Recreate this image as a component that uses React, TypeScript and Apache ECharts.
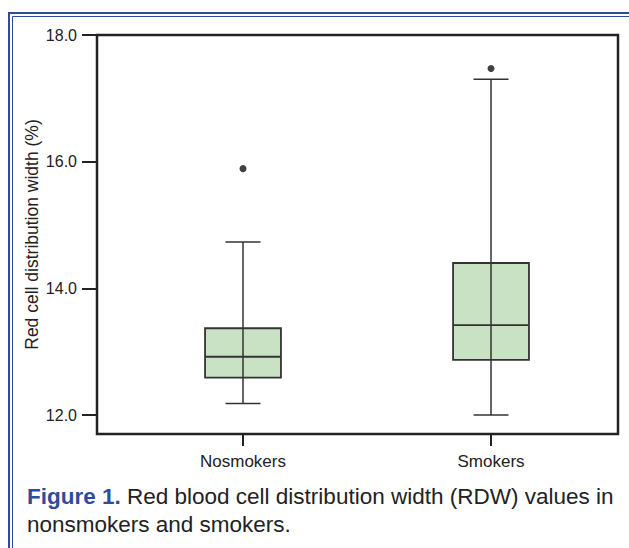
import React, { useEffect, useRef } from 'react';
import * as echarts from 'echarts';

const categories = ['Nosmokers', 'Smokers'];
// [min, Q1, median, Q3, max]
const boxValues = [
  [12.18, 12.59, 12.92, 13.37, 14.73],
  [12.0, 12.87, 13.42, 14.4, 17.3],
];
const outlierValues = [15.89, 17.47];
const yTicks = [12, 14, 16, 18];
const yAxisName = 'Red cell distribution width (%)';
const captionBold = 'Figure 1.';
const captionLine1 = ' Red blood cell distribution width (RDW) values in';
const captionLine2 = 'nonsmokers and smokers.';

const FONT = '"Liberation Sans", Arial, Helvetica, sans-serif';
const BLUE = '#2d4c9c';

export default function App() {
  const ref = useRef<HTMLDivElement>(null);

  useEffect(() => {
    if (!ref.current) return;
    const chart = echarts.init(ref.current, undefined, { renderer: 'svg' });

    const boxData = boxValues.map((v, i) => [i, ...v]);
    const outlierData = outlierValues.map((v, i) => [i, v]);

    const option: any = {
      animation: false,
      backgroundColor: '#ffffff',
      grid: {
        left: 97,
        right: 11,
        top: 35,
        bottom: 114,
        show: true,
        borderColor: '#222',
        borderWidth: 2.5,
        backgroundColor: 'transparent',
      },
      xAxis: {
        type: 'value',
        min: -0.5887,
        max: 1.512,
        splitLine: { show: false },
        axisLine: { show: false, onZero: false },
        axisTick: {
          show: true,
          length: 12,
          customValues: [0, 1],
          lineStyle: { color: '#222', width: 2 },
        },
        axisLabel: {
          customValues: [0, 1],
          formatter: (v: number) => categories[Math.round(v)] ?? '',
          fontSize: 17,
          color: '#222',
          fontFamily: FONT,
          margin: 19,
        },
      },
      yAxis: {
        type: 'value',
        min: 11.7,
        max: 18,
        splitLine: { show: false },
        axisLine: { show: false, onZero: false },
        axisTick: {
          show: true,
          length: 15,
          customValues: yTicks,
          lineStyle: { color: '#222', width: 2 },
        },
        axisLabel: {
          customValues: yTicks,
          formatter: (v: number) => v.toFixed(1),
          fontSize: 16,
          color: '#222',
          fontFamily: FONT,
          margin: 20,
        },
        name: yAxisName,
        nameLocation: 'middle',
        nameGap: 56,
        nameMoveOverlap: false,
        nameTextStyle: { fontSize: 17.5, color: '#222', fontFamily: FONT },
      },
      series: [
        {
          type: 'custom',
          data: boxData,
          encode: { x: 0, y: [1, 2, 3, 4, 5] },
          renderItem: (params: any, api: any) => {
            const x = api.value(0);
            const pMin = api.coord([x, api.value(1)]);
            const pQ1 = api.coord([x, api.value(2)]);
            const pMed = api.coord([x, api.value(3)]);
            const pQ3 = api.coord([x, api.value(4)]);
            const pMax = api.coord([x, api.value(5)]);
            const cx = pMin[0];
            const half = api.size([0.306, 0])[0] / 2;
            const capHalf = api.size([0.141, 0])[0] / 2;
            const stroke = '#333';
            return {
              type: 'group',
              children: [
                {
                  type: 'rect',
                  shape: { x: cx - half, y: pQ3[1], width: half * 2, height: pQ1[1] - pQ3[1] },
                  style: { fill: '#c8e2c3', stroke: 'none' },
                },
                {
                  type: 'line',
                  shape: { x1: cx, y1: pMax[1], x2: cx, y2: pMin[1] },
                  style: { stroke, lineWidth: 1.5 },
                },
                {
                  type: 'line',
                  shape: { x1: cx - capHalf, y1: pMax[1], x2: cx + capHalf, y2: pMax[1] },
                  style: { stroke, lineWidth: 1.5 },
                },
                {
                  type: 'line',
                  shape: { x1: cx - capHalf, y1: pMin[1], x2: cx + capHalf, y2: pMin[1] },
                  style: { stroke, lineWidth: 1.5 },
                },
                {
                  type: 'line',
                  shape: { x1: cx - half, y1: pMed[1], x2: cx + half, y2: pMed[1] },
                  style: { stroke, lineWidth: 1.8 },
                },
                {
                  type: 'rect',
                  shape: { x: cx - half, y: pQ3[1], width: half * 2, height: pQ1[1] - pQ3[1] },
                  style: { fill: 'none', stroke, lineWidth: 1.8 },
                },
              ],
            };
          },
        },
        {
          type: 'scatter',
          data: outlierData,
          symbol: 'circle',
          symbolSize: 7,
          itemStyle: { color: '#111' },
        },
      ],
      graphic: [
        { type: 'line', shape: { x1: 8, y1: 13, x2: 629, y2: 13 }, style: { stroke: BLUE, lineWidth: 2 } },
        { type: 'line', shape: { x1: 9, y1: 12, x2: 9, y2: 548 }, style: { stroke: BLUE, lineWidth: 2 } },
        { type: 'line', shape: { x1: 12.5, y1: 16.5, x2: 629, y2: 16.5 }, style: { stroke: BLUE, lineWidth: 1 } },
        { type: 'line', shape: { x1: 12.5, y1: 16.5, x2: 12.5, y2: 548 }, style: { stroke: BLUE, lineWidth: 1 } },
        {
          type: 'text',
          left: 27,
          top: 482,
          style: {
            text: `{b|${captionBold}}${captionLine1}\n${captionLine2}`,
            fontSize: 22.5,
            fontFamily: FONT,
            fill: '#222',
            lineHeight: 28,
            rich: {
              b: { fontWeight: 'bold', fill: BLUE, fontSize: 22.5, fontFamily: FONT, lineHeight: 28 },
            },
          },
        },
      ],
    };

    chart.setOption(option);
    return () => chart.dispose();
  }, []);

  return (
    <div
      ref={ref}
      style={{ position: 'fixed', left: 0, top: 0, width: 629, height: 548, background: '#fff' }}
    />
  );
}
